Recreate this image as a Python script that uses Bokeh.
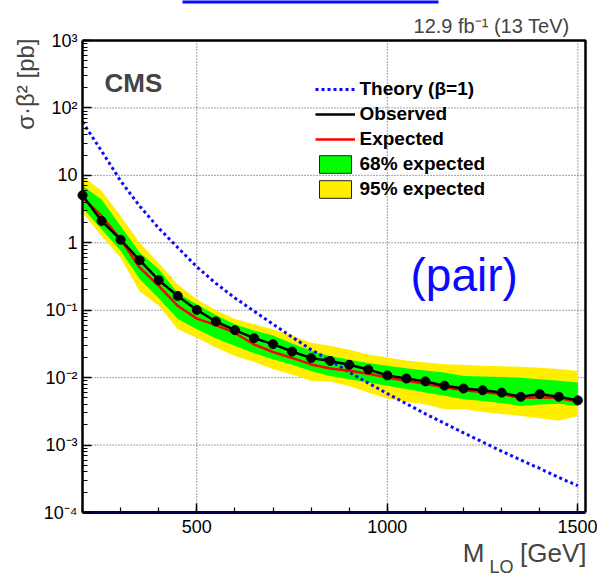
import math

from bokeh.plotting import figure
from bokeh.models import (FixedTicker, CustomJSTickFormatter, Label, Legend,
                          LegendItem, BoxAnnotation, Range1d)
from bokeh.embed import file_html
from bokeh.resources import INLINE

# Leptoquark mass points [GeV]
mass = [200, 250, 300, 350, 400, 450, 500, 550, 600, 650, 700, 750, 800, 850,
        900, 950, 1000, 1050, 1100, 1150, 1200, 1250, 1300, 1350, 1400, 1450, 1500]

# Observed 95% CL upper limit on sigma*beta^2 [pb]
observed = [5.07, 2.11, 1.11, 0.552, 0.279, 0.163, 0.101, 0.068, 0.0506, 0.0385,
            0.0314, 0.0244, 0.0195, 0.0177, 0.0155, 0.0132, 0.0108, 0.0097, 0.0088,
            0.0076, 0.0069, 0.0065, 0.0060, 0.0052, 0.0057, 0.0052, 0.0046]

# Median expected limit
expected = [4.7, 2.5, 1.13, 0.43, 0.23, 0.116, 0.075, 0.060, 0.046, 0.031, 0.024,
            0.0196, 0.0157, 0.0137, 0.0127, 0.0114, 0.0100, 0.0090, 0.0081, 0.0072,
            0.0065, 0.0061, 0.0057, 0.0050, 0.0051, 0.0050, 0.0044]

# 68% expected band
lower68 = [3.3, 1.59, 0.76, 0.29, 0.15, 0.074, 0.052, 0.038, 0.0296, 0.023, 0.0188,
           0.0155, 0.0126, 0.0106, 0.0095, 0.0085, 0.0076, 0.0068, 0.0060, 0.0054,
           0.0048, 0.0045, 0.0042, 0.0038, 0.0040, 0.0041, 0.0038]
upper68 = [7.0, 4.4, 1.78, 0.72, 0.41, 0.18, 0.123, 0.085, 0.062, 0.050, 0.042,
           0.032, 0.025, 0.021, 0.0185, 0.0165, 0.0150, 0.0138, 0.0128, 0.0119,
           0.0106, 0.0104, 0.0102, 0.0100, 0.0095, 0.0090, 0.0085]

# 95% expected band
lower95 = [2.8, 1.26, 0.60, 0.19, 0.116, 0.052, 0.039, 0.028, 0.021, 0.017, 0.0134,
           0.0110, 0.0090, 0.0088, 0.0075, 0.0060, 0.0049, 0.0044, 0.0040, 0.0034,
           0.0034, 0.0031, 0.0029, 0.0027, 0.0025, 0.0023, 0.0027]
upper95 = [9.8, 5.9, 2.5, 1.0, 0.50, 0.24, 0.146, 0.100, 0.074, 0.062, 0.052,
           0.042, 0.033, 0.0296, 0.026, 0.022, 0.0199, 0.0180, 0.0168, 0.0158,
           0.0155, 0.0150, 0.0147, 0.0145, 0.0140, 0.0134, 0.0126]

# Theory cross section for pair production (beta = 1) [pb]
theory = [62.0, 23.0, 8.3, 3.5, 1.65, 0.85, 0.44, 0.25, 0.152, 0.097, 0.062, 0.040,
          0.026, 0.0178, 0.0121, 0.0083, 0.0058, 0.0041, 0.0029, 0.0021, 0.00152,
          0.00111, 0.00081, 0.00060, 0.00045, 0.00033, 0.00025]

x_major = [500, 1000, 1500]
x_minor = list(range(200, 1501, 100))
y_major = [1e-4, 1e-3, 1e-2, 1e-1, 1.0, 10.0, 100.0, 1000.0]
legend_labels = ["Theory (\u03b2=1)", "Observed", "Expected", "68% expected", "95% expected"]

# axis limits of the drawing box
XLO, XHI = 200, 1520
YLO, YHI = y_major[0], y_major[-1]

W, H = 597, 573
BOX_L, BOX_R, BOX_T, BOX_B = 82, 585, 40, 512   # drawing box on the canvas (px)
FONT = "Liberation Sans"

# The Bokeh frame fills the canvas; the ranges are stretched so that the
# axis limits land on the drawing box, which leaves room for the titles.
px_per_gev = (BOX_R - BOX_L) / (XHI - XLO)
x_start = XLO - BOX_L / px_per_gev
x_end = x_start + W / px_per_gev
px_per_dec = (BOX_B - BOX_T) / (math.log10(YHI) - math.log10(YLO))
y_top = 10 ** (math.log10(YHI) + BOX_T / px_per_dec)
y_bot = 10 ** (math.log10(YLO) - (H - BOX_B) / px_per_dec)

p = figure(width=W, height=H, title=None,
           x_range=Range1d(x_start, x_end), y_range=Range1d(y_bot, y_top),
           y_axis_type="log", output_backend="svg", toolbar_location=None,
           min_border=0)
p.background_fill_color = "white"
p.border_fill_color = "white"
p.outline_line_color = None
p.xgrid.visible = False
p.ygrid.visible = False

# ---- axes (pinned to the box edges) ----------------------------------------
p.xaxis.fixed_location = YLO
p.xaxis.bounds = (XLO, XHI)
p.yaxis.fixed_location = XLO
p.yaxis.bounds = (YLO, YHI)
p.xaxis.ticker = FixedTicker(ticks=x_major, minor_ticks=x_minor)
p.yaxis.ticker = FixedTicker(
    ticks=y_major,
    minor_ticks=[m * d for d in y_major[:-1] for m in range(2, 10)])
p.yaxis.formatter = CustomJSTickFormatter(code="""
const e = Math.round(Math.log10(tick));
if (e === 0) return "1";
if (e === 1) return "10";
const sup = {"-": "\u207b", "0": "\u2070", "1": "\u00b9", "2": "\u00b2",
             "3": "\u00b3", "4": "\u2074"};
return "10" + String(e).split("").map(c => sup[c]).join("");
""")

for ax in (p.xaxis, p.yaxis):
    ax.major_tick_in = 9
    ax.major_tick_out = 0
    ax.minor_tick_in = 5
    ax.minor_tick_out = 0
    ax.major_tick_line_color = "black"
    ax.minor_tick_line_color = "black"
    ax.major_tick_line_width = 1.5
    ax.minor_tick_line_width = 1.2
    ax.major_label_text_font = FONT
    ax.major_label_text_font_size = "18px"
    ax.major_label_text_color = "black"

p.xaxis.axis_line_color = "#000050"
p.xaxis.axis_line_width = 3
p.xaxis.major_label_standoff = 7
p.yaxis.axis_line_color = "black"
p.yaxis.axis_line_width = 2.5
p.yaxis.major_label_standoff = 5

# dotted grid at the major ticks
p.segment(x0=x_major, y0=[YLO] * len(x_major), x1=x_major, y1=[YHI] * len(x_major),
          line_color="#444444", line_dash="1 2", line_width=1, level="underlay")
p.segment(x0=[XLO] * len(y_major), y0=y_major, x1=[XHI] * len(y_major), y1=y_major,
          line_color="#444444", line_dash="1 2", line_width=1, level="underlay")

# ---- data -----------------------------------------------------------------
band95 = p.varea(x=mass, y1=lower95, y2=upper95, fill_color="#ffee00")
band68 = p.varea(x=mass, y1=lower68, y2=upper68, fill_color="#00ff00")
th = p.line(mass, theory, line_color="#0a0aff", line_width=3, line_dash="3 3")
ex = p.line(mass, expected, line_color="#ff0000", line_width=2.5)
ob = p.line(mass, observed, line_color="black", line_width=2.5)
p.scatter(mass, observed, size=9, fill_color="black", line_color="black")

# top and right edges of the box
p.line([XLO, XHI, XHI], [YHI, YHI, YLO], line_color="black", line_width=2.5)

# outlined swatches used only by the legend (hidden in the plot itself)
box68 = p.quad(left=[XLO], right=[XLO], top=[YLO], bottom=[YLO], fill_color="#00ff00",
               line_color="#222222", line_width=1, visible=False)
box95 = p.quad(left=[XLO], right=[XLO], top=[YLO], bottom=[YLO], fill_color="#ffee00",
               line_color="#222222", line_width=1, visible=False)

legend = Legend(
    items=[LegendItem(label=lab, renderers=[r])
           for lab, r in zip(legend_labels, [th, ob, ex, box68, box95])],
    location=(314.5, H - 199.5), click_policy="none",
    orientation="vertical", background_fill_alpha=0, border_line_alpha=0,
    padding=0, margin=0, spacing=3, glyph_width=40, glyph_height=22,
    label_height=20, label_standoff=5, label_text_font=FONT,
    label_text_font_style="bold", label_text_font_size="19px",
    label_text_color="black")
p.add_layout(legend)


def lab(text, cx, cy, **kw):
    """Place a label at canvas pixel (cx, cy) measured from the top-left."""
    p.add_layout(Label(x=cx, y=H - cy, x_units="screen", y_units="screen",
                       text=text, text_font=FONT, **kw))


lab("CMS", 104, 97, text_font_size="26px", text_font_style="bold")
lab("(pair)", 410, 274, text_font_size="46px", text_color="#0a0aff",
    text_baseline="middle")
lab("12.9 fb\u207b\u00b9 (13 TeV)", 569, 36.5, text_font_size="20px",
    text_align="right")
lab("\u03c3\u00b7\u03b2\u00b2 [pb]", 38, 38, text_font_size="24px",
    text_align="right", angle=math.pi / 2)
lab("[GeV]", 586, 567, text_font_size="26px", text_align="right")
lab("LQ", 513, 576, text_font_size="18px", text_align="right")
lab("M", 484, 567, text_font_size="26px", text_align="right")

# blue rule along the top edge
p.add_layout(BoxAnnotation(left=182, right=438, bottom=H - 3, top=H + 2,
                           left_units="screen", right_units="screen",
                           bottom_units="screen", top_units="screen",
                           fill_color="#0a0aff", fill_alpha=1, line_alpha=0))

open("out.html", "w").write(file_html(p, INLINE))
